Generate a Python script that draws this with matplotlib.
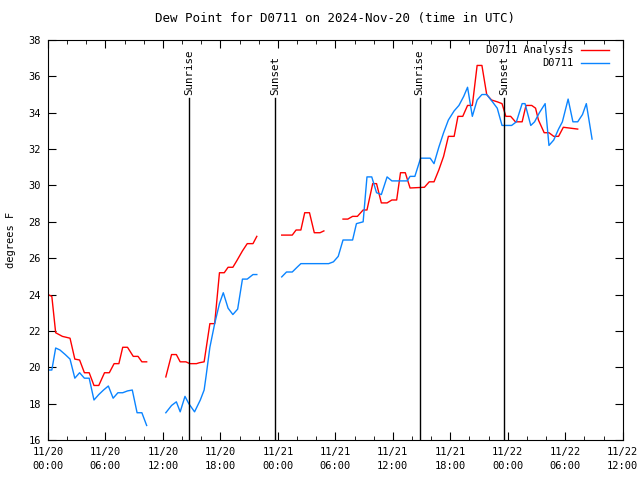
import numpy as np
import matplotlib
matplotlib.use('Agg')
import matplotlib.pyplot as plt

nan = np.nan

# hours since 2024-11-20 00:00 UTC
hours_analysis = [0, 0.4, 0.8, 1.5, 2.3, 2.8, 3.3, 3.8, 4.3, 4.8, 5.3, 5.9, 6.4, 6.9, 7.4, 7.8, 8.3, 8.9, 9.4, 9.8, 10.3,
                  11.3,
                  12.3, 12.9, 13.4, 13.8, 14.4, 14.8, 15.5, 15.8, 16.3, 16.9, 17.4, 17.9, 18.4, 18.8, 19.3, 19.7, 20.3, 20.8, 21.4, 21.8,
                  23.0,
                  24.4, 25.5, 25.9, 26.4, 26.8, 27.3, 27.8, 28.4, 28.8,
                  29.8,
                  30.8, 31.3, 31.8, 32.3, 32.9, 33.3, 33.9, 34.3, 34.8, 35.4, 35.9, 36.4, 36.8, 37.3, 37.8, 39.3, 39.8, 40.3,
                  40.8, 41.3, 41.8, 42.4, 42.8, 43.3, 43.8, 44.3, 44.8, 45.3, 45.8, 46.3, 46.9, 47.4, 47.8, 48.3, 48.8, 49.5,
                  49.9, 50.5, 50.9, 51.2, 51.8, 52.3, 52.8, 53.3, 53.8, 55.3]
dewpt_analysis = [24.0, 23.9, 21.9, 21.7, 21.6, 20.45, 20.4, 19.7, 19.7, 19.0, 19.0, 19.7, 19.7, 20.2, 20.2, 21.1, 21.1, 20.6, 20.6, 20.3, 20.3,
                  nan,
                  19.47, 20.7, 20.7, 20.3, 20.3, 20.2, 20.2, 20.25, 20.3, 22.4, 22.4, 25.2, 25.2, 25.5, 25.5, 25.85, 26.4, 26.8, 26.8, 27.2,
                  nan,
                  27.27, 27.27, 27.55, 27.55, 28.5, 28.5, 27.4, 27.4, 27.5,
                  nan,
                  28.15, 28.15, 28.3, 28.3, 28.65, 28.65, 30.1, 30.1, 29.04, 29.04, 29.2, 29.2, 30.7, 30.7, 29.86, 29.9, 30.2, 30.2,
                  30.85, 31.6, 32.7, 32.7, 33.8, 33.8, 34.4, 34.4, 36.6, 36.6, 35.0, 34.7, 34.6, 34.5, 33.8, 33.8, 33.5, 33.5,
                  34.4, 34.4, 34.25, 33.6, 32.9, 32.9, 32.7, 32.7, 33.2, 33.1]

hours_obs = [0, 0.4, 0.8, 1.25, 1.8, 2.3, 2.8, 3.3, 3.8, 4.3, 4.8, 5.3, 5.8, 6.3, 6.8, 7.3, 7.8, 8.3, 8.8, 9.3, 9.8, 10.3,
             11.3,
             12.3, 12.9, 13.4, 13.8, 14.3, 14.7, 15.3, 15.9, 16.3, 16.5, 16.9, 17.4, 17.9, 18.3, 18.8, 19.3, 19.8, 20.3, 20.8, 21.4, 21.8,
             23.0,
             24.4, 24.9, 25.5, 26.0, 26.4, 29.3, 29.8, 30.3, 30.8, 31.8, 32.2, 32.9, 33.3, 33.8, 34.3, 34.8, 35.4, 35.9, 37.5, 37.8,
             38.3, 38.9, 39.9, 40.3, 40.8, 41.3, 41.8, 42.4, 42.9, 43.4, 43.8, 44.3, 44.8, 45.3, 45.8, 46.4, 46.9, 47.4, 48.4,
             48.9, 49.5, 49.8, 50.4, 50.8, 51.3, 51.9, 52.3, 52.8, 53.3, 53.7, 54.3, 54.8, 55.3, 55.8, 56.2, 56.8]
dewpt_obs = [19.85, 19.85, 21.06, 20.95, 20.7, 20.45, 19.4, 19.7, 19.4, 19.4, 18.2, 18.5, 18.75, 18.97, 18.3, 18.6, 18.6, 18.7, 18.75, 17.5, 17.5, 16.8,
             nan,
             17.5, 17.9, 18.1, 17.55, 18.4, 18.0, 17.55, 18.2, 18.75, 19.5, 21.1, 22.4, 23.5, 24.1, 23.25, 22.9, 23.2, 24.85, 24.85, 25.1, 25.1,
             nan,
             24.97, 25.24, 25.24, 25.5, 25.7, 25.7, 25.8, 26.1, 27.0, 27.0, 27.9, 28.0, 30.47, 30.47, 29.6, 29.5, 30.47, 30.25, 30.25, 30.5,
             30.5, 31.5, 31.5, 31.2, 32.1, 32.9, 33.6, 34.1, 34.4, 34.9, 35.4, 33.8, 34.7, 35.0, 35.0, 34.6, 34.25, 33.3, 33.3,
             33.5, 34.5, 34.5, 33.3, 33.5, 34.0, 34.5, 32.2, 32.5, 33.1, 33.5, 34.75, 33.5, 33.5, 33.9, 34.5, 32.55]

sun_hours = [14.7, 23.7, 38.8, 47.6]
sun_labels = ['Sunrise', 'Sunset', 'Sunrise', 'Sunset']

tick_hours = [0, 6, 12, 18, 24, 30, 36, 42, 48, 54, 60]
tick_labels = ['11/20\n00:00', '11/20\n06:00', '11/20\n12:00', '11/20\n18:00',
               '11/21\n00:00', '11/21\n06:00', '11/21\n12:00', '11/21\n18:00',
               '11/22\n00:00', '11/22\n06:00', '11/22\n12:00']

plt.rcParams['font.family'] = ['DejaVu Sans Mono']
plt.rcParams['font.size'] = 7.5

fig = plt.figure(figsize=(6.4, 4.8), dpi=100)
ax = fig.add_axes([0.075, 0.0833, 0.898, 0.8334])

ax.plot(hours_analysis, dewpt_analysis, color='#ff0000', lw=1, label='D0711 Analysis')
ax.plot(hours_obs, dewpt_obs, color='#0a84ff', lw=1, label='D0711')

for h, lab in zip(sun_hours, sun_labels):
    ax.axvline(h, ymax=0.855, color='black', lw=1)
    ax.text(h, 34.95, lab, rotation=90, ha='center', va='bottom', fontsize=7.8)

ax.set_xlim(0, 60)
ax.set_ylim(16, 38)
ax.set_xticks(tick_hours)
ax.set_xticklabels(tick_labels, linespacing=1.45)
ax.set_xticks(np.arange(0, 61, 2), minor=True)
ax.set_yticks(np.arange(16, 39, 2))
ax.tick_params(axis='both', which='both', direction='in', top=True, right=True, labelsize=7.5)
ax.tick_params(which='major', length=6, pad=5)
ax.tick_params(which='minor', length=3)
ax.set_ylabel('degrees F', labelpad=9)
ax.set_title('Dew Point for D0711 on 2024-Nov-20 (time in UTC)', pad=13)

ax.legend(loc='upper right', bbox_to_anchor=(0.986, 1.0), frameon=False, markerfirst=False,
          handlelength=2.7, borderaxespad=0.1, labelspacing=0.3, handletextpad=0.8)

fig.savefig('out.png', dpi=100)
